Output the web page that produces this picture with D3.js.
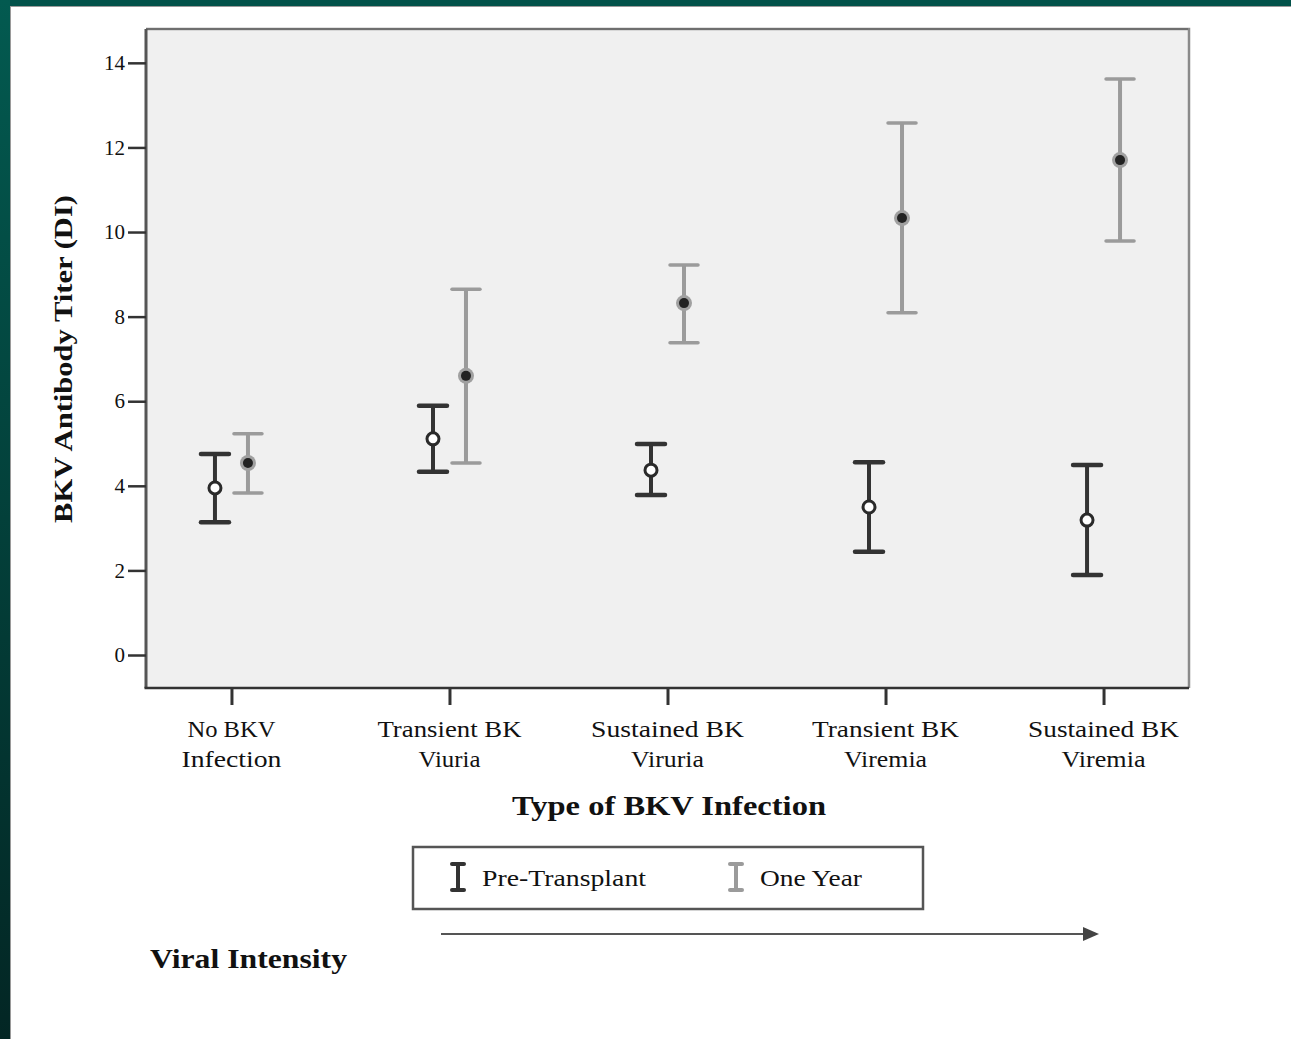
<!DOCTYPE html>
<html>
<head>
<meta charset="utf-8">
<script src="https://cdn.jsdelivr.net/npm/d3@7"></script>
<style>
  html, body { margin: 0; padding: 0; background: #fff; }
  svg { display: block; }
  text { font-family: "Liberation Serif", "DejaVu Serif", serif; fill: #111; }
</style>
</head>
<body>
<svg id="chart" width="1291" height="1039"></svg>
<script>
// BKV antibody titer by infection type, pre-transplant vs one year (mean ± CI)
const categories = [
  ["No BKV", "Infection"],
  ["Transient BK", "Viuria"],
  ["Sustained BK", "Viruria"],
  ["Transient BK", "Viremia"],
  ["Sustained BK", "Viremia"]
];
const categoryKeys = ["none", "transViuria", "sustViruria", "transViremia", "sustViremia"];
const seriesNames = ["Pre-Transplant", "One Year"];

const preMean  = [3.95, 5.11, 4.37, 3.50, 3.19];
const preLow   = [3.14, 4.33, 3.78, 2.44, 1.89];
const preHigh  = [4.75, 5.89, 4.99, 4.56, 4.49];

const yearMean = [4.54, 6.60, 8.32, 10.33, 11.70];
const yearLow  = [3.83, 4.54, 7.38, 8.09, 9.79];
const yearHigh = [5.23, 8.65, 9.22, 12.58, 13.62];

const yTicks = [0, 2, 4, 6, 8, 10, 12, 14];

// label widths keep the spacing of the original serif face
const catLineWidths = [[88, 100], [144, 62], [153, 73], [147, 83], [151, 84]];

const svg = d3.select("#chart");
const W = 1291, H = 1039;

// dark teal frame along the top and left edges
const defs = svg.append("defs");
const lg = defs.append("linearGradient").attr("id", "leftEdge")
  .attr("x1", 0).attr("y1", 0).attr("x2", 0).attr("y2", 1);
lg.append("stop").attr("offset", "0%").attr("stop-color", "#035a50");
lg.append("stop").attr("offset", "100%").attr("stop-color", "#032624");
svg.append("rect").attr("x", 0).attr("y", 0).attr("width", W).attr("height", 6).attr("fill", "#02524a");
svg.append("rect").attr("x", 0).attr("y", 0).attr("width", 10).attr("height", H).attr("fill", "url(#leftEdge)");
svg.append("line").attr("x1", 10.5).attr("x2", 10.5).attr("y1", 6).attr("y2", H)
  .attr("stroke", "#9a9a9a").attr("stroke-width", 1);
svg.append("line").attr("x1", 10).attr("x2", W).attr("y1", 6.5).attr("y2", 6.5)
  .attr("stroke", "#9a9a9a").attr("stroke-width", 1);

// plot area
const plot = { left: 146, right: 1189, top: 29, bottom: 688 };

const x = d3.scalePoint().domain(categoryKeys).range([plot.left, plot.right]).padding(0.392);
const xs = d3.scalePoint().domain(seriesNames).range([-16.5, 16.5]);
const y = d3.scaleLinear().domain([-0.78, 14.8]).range([plot.bottom, plot.top]);

svg.append("rect")
  .attr("x", plot.left).attr("y", plot.top)
  .attr("width", plot.right - plot.left).attr("height", plot.bottom - plot.top)
  .attr("fill", "#f0f0f0");
// top and right frame (lighter)
svg.append("path")
  .attr("d", `M${plot.left},${plot.top}H${plot.right}V${plot.bottom}`)
  .attr("fill", "none").attr("stroke", "#8a8a8a").attr("stroke-width", 2.5);
svg.append("path")
  .attr("d", `M${plot.left},${plot.top}H${plot.right - 1}`)
  .attr("fill", "none").attr("stroke", "#555").attr("stroke-width", 1);

// y axis
const yAxis = d3.axisLeft(y).tickValues(yTicks).tickSize(18).tickPadding(3).tickFormat(d3.format("d"));
const gy = svg.append("g").attr("transform", `translate(${plot.left},0)`).call(yAxis);
gy.select(".domain").attr("stroke", "#555").attr("stroke-width", 3)
  .attr("d", `M0,${plot.top}V${plot.bottom}`);
gy.selectAll(".tick line").attr("stroke", "#333").attr("stroke-width", 2.5);
gy.selectAll(".tick text").attr("font-size", 21).attr("fill", "#111")
  .attr("font-family", "Liberation Serif, serif");

// x axis
const xAxis = d3.axisBottom(x).tickSize(17).tickFormat("");
const gx = svg.append("g").attr("transform", `translate(0,${plot.bottom})`).call(xAxis);
gx.select(".domain").attr("stroke", "#333").attr("stroke-width", 2.5)
  .attr("d", `M${plot.left - 1.5},0H${plot.right}`);
gx.selectAll(".tick line").attr("stroke", "#333").attr("stroke-width", 3);

// category labels, two lines each
categoryKeys.forEach((k, i) => {
  categories[i].forEach((line, j) => {
    svg.append("text")
      .attr("x", x(k)).attr("y", 737 + j * 30)
      .attr("text-anchor", "middle")
      .attr("font-size", 23)
      .attr("textLength", catLineWidths[i][j])
      .attr("lengthAdjust", "spacingAndGlyphs")
      .attr("fill", "#222")
      .text(line);
  });
});

// axis titles
svg.append("text")
  .attr("x", 669).attr("y", 815)
  .attr("text-anchor", "middle")
  .attr("font-size", 27).attr("font-weight", "bold")
  .attr("textLength", 314).attr("lengthAdjust", "spacingAndGlyphs")
  .text("Type of BKV Infection");

svg.append("text")
  .attr("transform", "translate(72,359) rotate(-90)")
  .attr("text-anchor", "middle")
  .attr("font-size", 26).attr("font-weight", "bold")
  .attr("textLength", 328).attr("lengthAdjust", "spacingAndGlyphs")
  .text("BKV Antibody Titer (DI)");

// error bars
const series = [
  { name: seriesNames[0], mean: preMean, low: preLow, high: preHigh, color: "#333333", cap: 28 },
  { name: seriesNames[1], mean: yearMean, low: yearLow, high: yearHigh, color: "#9b9b9b", cap: 28 }
];

series.forEach((s, si) => {
  const g = svg.append("g");
  const rows = categoryKeys.map((k, i) => ({ k, mean: s.mean[i], low: s.low[i], high: s.high[i] }));
  const cx = d => x(d.k) + xs(s.name);
  const grp = g.selectAll("g").data(rows).join("g");
  grp.append("line")
    .attr("x1", cx).attr("x2", cx)
    .attr("y1", d => y(d.low)).attr("y2", d => y(d.high))
    .attr("stroke", s.color).attr("stroke-width", 4);
  ["low", "high"].forEach(key => {
    grp.append("line")
      .attr("x1", d => cx(d) - s.cap / 2).attr("x2", d => cx(d) + s.cap / 2)
      .attr("y1", d => y(d[key])).attr("y2", d => y(d[key]))
      .attr("stroke", s.color).attr("stroke-width", si === 0 ? 4.5 : 3.5)
      .attr("stroke-linecap", "round");
  });
  if (si === 0) {
    grp.append("circle")
      .attr("cx", cx).attr("cy", d => y(d.mean)).attr("r", 6)
      .attr("fill", "#fff").attr("stroke", "#2a2a2a").attr("stroke-width", 3);
  } else {
    grp.append("circle")
      .attr("cx", cx).attr("cy", d => y(d.mean)).attr("r", 8)
      .attr("fill", "#a0a0a0");
    grp.append("circle")
      .attr("cx", cx).attr("cy", d => y(d.mean)).attr("r", 5)
      .attr("fill", "#222");
  }
});

// legend
const legend = svg.append("g");
legend.append("rect")
  .attr("x", 413).attr("y", 847).attr("width", 510).attr("height", 62)
  .attr("fill", "#fff").attr("stroke", "#555").attr("stroke-width", 2.5);
const legendItems = [
  { name: seriesNames[0], color: "#333333", ix: 458, tx: 482, w: 164 },
  { name: seriesNames[1], color: "#9b9b9b", ix: 736, tx: 760, w: 102 }
];
legendItems.forEach(it => {
  legend.append("line").attr("x1", it.ix).attr("x2", it.ix).attr("y1", 864).attr("y2", 890)
    .attr("stroke", it.color).attr("stroke-width", 4);
  [864, 890].forEach(yy => legend.append("line")
    .attr("x1", it.ix - 6).attr("x2", it.ix + 6).attr("y1", yy).attr("y2", yy)
    .attr("stroke", it.color).attr("stroke-width", 4).attr("stroke-linecap", "round"));
  legend.append("text")
    .attr("x", it.tx).attr("y", 886)
    .attr("font-size", 23)
    .attr("textLength", it.w).attr("lengthAdjust", "spacingAndGlyphs")
    .attr("fill", "#222")
    .text(it.name);
});

// viral intensity arrow
svg.append("line").attr("x1", 441).attr("x2", 1085).attr("y1", 934).attr("y2", 934)
  .attr("stroke", "#555").attr("stroke-width", 2);
svg.append("path").attr("d", "M1083,927L1099,934L1083,941Z").attr("fill", "#444");
svg.append("text")
  .attr("x", 150).attr("y", 968)
  .attr("font-size", 27).attr("font-weight", "bold")
  .attr("textLength", 197).attr("lengthAdjust", "spacingAndGlyphs")
  .text("Viral Intensity");
</script>
</body>
</html>
